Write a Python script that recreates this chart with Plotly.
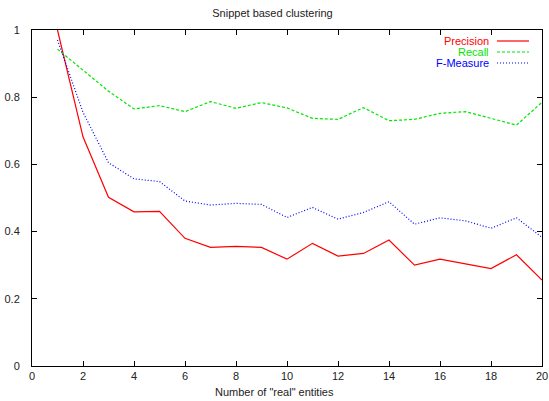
import plotly.graph_objects as go

x_vals = list(range(1, 21))
precision = [1.0, 0.682, 0.502, 0.459, 0.46, 0.38, 0.353, 0.356, 0.353, 0.318,
             0.365, 0.327, 0.335, 0.375, 0.30, 0.318, 0.304, 0.29, 0.331, 0.256]
recall = [0.943, 0.881, 0.818, 0.765, 0.775, 0.757, 0.787, 0.767, 0.784, 0.768,
          0.737, 0.734, 0.769, 0.73, 0.734, 0.752, 0.757, 0.737, 0.717, 0.785]
fmeasure = [0.97, 0.755, 0.605, 0.557, 0.549, 0.491, 0.479, 0.484, 0.481, 0.442,
            0.472, 0.437, 0.457, 0.489, 0.422, 0.441, 0.432, 0.41, 0.441, 0.383]
series_names = ["Precision", "Recall", "F-Measure"]
series_colors = ["#ff0000", "#00e600", "#0000ff"]
series_dash = ["solid", "3px,2px", "1px,2px"]
x_ticks = list(range(0, 21, 2))
y_ticks = [0, 0.2, 0.4, 0.6, 0.8, 1]
y_tick_text = ["0", "0.2", "0.4", "0.6", "0.8", "1"]

FONT = "Liberation Sans, Arial, sans-serif"
L, R, T, B = 32, 542, 30, 366
PW, PH = R - L, B - T

fig = go.Figure()
for name, ys, col, dash in zip(series_names, [precision, recall, fmeasure], series_colors, series_dash):
    fig.add_trace(go.Scatter(x=x_vals, y=ys, mode="lines", name=name,
                             line=dict(color=col, width=1.2, dash=dash),
                             showlegend=False))

# gnuplot-style legend: right-aligned label, sample line on the right
legend_y = [41, 52, 63]
for name, col, dash, yy in zip(series_names, series_colors, series_dash, legend_y):
    yp = 1 - (yy - T) / PH
    fig.add_annotation(xref="paper", yref="paper", x=(491 - L) / PW, y=yp,
                       text=name, showarrow=False, xanchor="right", yanchor="middle",
                       font=dict(family=FONT, size=11, color=col))
    fig.add_shape(type="line", xref="paper", yref="paper",
                  x0=(497 - L) / PW, x1=(529 - L) / PW, y0=yp, y1=yp,
                  line=dict(color=col, width=1.2, dash=dash))

# x-axis title
fig.add_annotation(xref="paper", yref="paper", x=(274 - L) / PW, y=-(392 - B) / PH,
                   text='Number of "real" entities', showarrow=False,
                   xanchor="center", yanchor="middle",
                   font=dict(family=FONT, size=11, color="#222"))

fig.update_layout(
    width=549, height=401,
    margin=dict(l=L, r=549 - R, t=T, b=401 - B, autoexpand=False),
    paper_bgcolor="white", plot_bgcolor="white",
    font=dict(family=FONT, size=11, color="#222"),
    title=dict(text="Snippet based clustering", x=272.5 / 549.0, xanchor="center",
               y=1 - 13 / 401.0, yanchor="middle", font=dict(family=FONT, size=11, color="#222")),
    xaxis=dict(range=[0, 20], tickvals=x_ticks, ticks="inside", ticklen=5, tickcolor="black",
               showline=True, linecolor="black", linewidth=1, mirror="ticks",
               showgrid=False, zeroline=False, automargin=False),
    yaxis=dict(range=[0, 1], tickvals=y_ticks, ticktext=y_tick_text, ticks="inside", ticklen=5,
               tickcolor="black", showline=True, linecolor="black", linewidth=1, mirror="ticks",
               showgrid=False, zeroline=False, automargin=False, ticklabelstandoff=9),
)

fig.write_html("out.html", config={"displayModeBar": False},
               post_script="document.body.style.margin='0';document.body.style.overflow='hidden';")
